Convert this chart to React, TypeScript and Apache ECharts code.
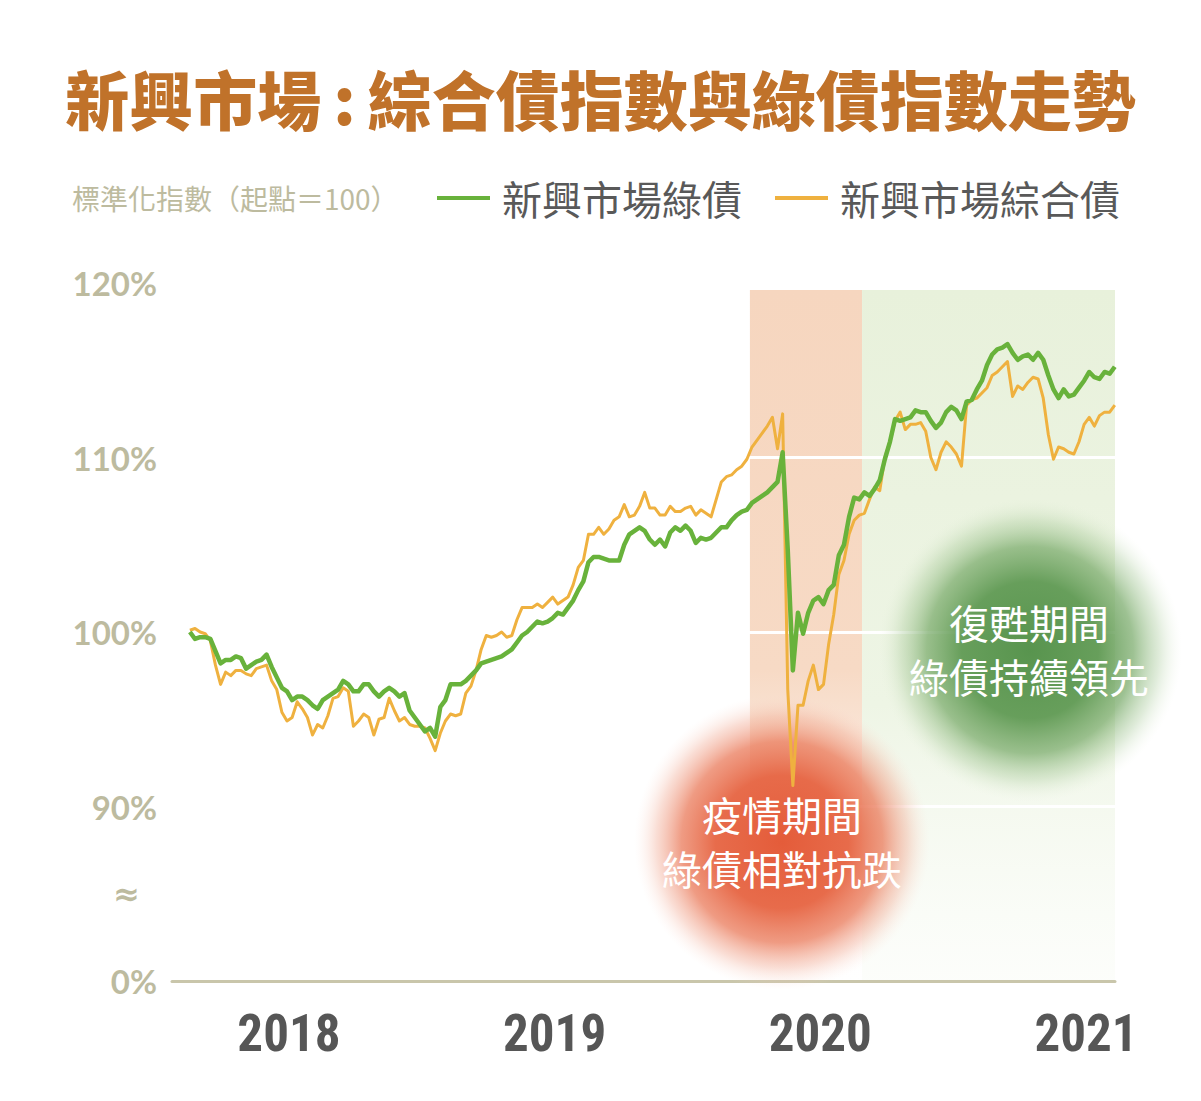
import React, { useEffect, useRef } from 'react';
import * as echarts from 'echarts';

// ---- data ----
const START_YEAR = 2017.6274; // first weekly observation
const WEEK = 1 / 52;
const yearTicks = [2018, 2019, 2020, 2021];
const yLabelValues = [80, 85, 90, 100, 110, 120];
const yLabelText: Record<number, string> = { 80: '0%', 85: '{ap|≈}', 90: '90%', 100: '100%', 110: '110%', 120: '120%' };
const gridLevels = [90, 100, 110];
const covidPeriod = [2019.735, 2020.157];
const recoveryPeriod = [2020.157, 2021.116];
const shadeTop = 119.6;

const seriesNames = ['新興市場綠債', '新興市場綜合債'];

const greenBond = [
  100.0, 99.6, 99.7, 99.7, 99.6, 98.9, 98.2, 98.4, 98.4, 98.6,
  98.5, 97.9, 98.1, 98.3, 98.4, 98.7, 98.0, 97.4, 96.8, 96.6,
  96.1, 96.3, 96.3, 96.1, 95.8, 95.6, 96.1, 96.3, 96.5, 96.7,
  97.2, 97.0, 96.6, 96.6, 97.0, 97.0, 96.6, 96.3, 96.6, 96.8,
  96.6, 96.3, 96.5, 95.5, 95.1, 94.7, 94.3, 94.5, 94.0, 95.7,
  96.1, 97.0, 97.0, 97.0, 97.2, 97.5, 97.8, 98.2, 98.3, 98.4,
  98.5, 98.6, 98.8, 99.0, 99.4, 99.8, 100.0, 100.3, 100.6, 100.5,
  100.6, 100.8, 101.1, 101.0, 101.4, 101.8, 102.4, 102.9, 104.0, 104.3,
  104.3, 104.2, 104.1, 104.1, 104.1, 105.0, 105.6, 105.8, 106.0, 105.8,
  105.3, 105.0, 105.3, 104.9, 105.7, 106.0, 105.8, 106.1, 105.8, 105.1,
  105.4, 105.3, 105.4, 105.7, 106.0, 106.0, 106.4, 106.7, 106.9, 107.0,
  107.4, 107.6, 107.8, 108.0, 108.3, 108.6, 110.3, 104.7, 97.8, 101.1,
  99.9, 101.1, 101.8, 102.0, 101.6, 102.4, 102.7, 104.4, 105.0, 106.6,
  107.7, 107.6, 108.0, 107.8, 108.2, 108.7, 109.9, 110.9, 112.2, 112.1,
  112.2, 112.3, 112.7, 112.6, 112.6, 112.1, 111.7, 112.0, 112.6, 112.9,
  112.7, 112.2, 113.2, 113.3, 113.9, 114.4, 115.3, 115.9, 116.2, 116.3,
  116.5, 116.0, 115.6, 115.8, 115.9, 115.6, 116.0, 115.6, 114.7, 113.9,
  113.4, 113.9, 113.5, 113.6, 114.0, 114.4, 114.9, 114.6, 114.5, 114.9,
  114.8, 115.2,
];

const compositeBond = [
  100.1, 100.2, 100.0, 99.9, 99.5, 98.1, 97.0, 97.7, 97.5, 97.8,
  97.8, 97.6, 97.5, 97.9, 98.0, 98.1, 97.2, 96.7, 95.4, 94.9,
  95.1, 96.0, 95.6, 95.1, 94.1, 94.7, 94.5, 95.2, 96.2, 96.3,
  96.8, 96.6, 94.6, 94.9, 95.3, 95.1, 94.1, 95.0, 95.1, 96.2,
  95.5, 94.9, 95.1, 94.7, 94.6, 94.6, 94.5, 93.9, 93.2, 94.2,
  94.9, 95.3, 95.2, 95.3, 96.5, 96.9, 97.8, 99.0, 99.8, 99.7,
  99.8, 100.0, 99.7, 99.8, 100.7, 101.4, 101.4, 101.4, 101.6, 101.4,
  101.7, 102.0, 101.6, 101.8, 102.0, 102.7, 103.7, 104.1, 105.6, 105.6,
  106.0, 105.6, 105.9, 106.4, 106.6, 107.3, 106.6, 106.7, 107.2, 108.0,
  107.1, 107.1, 106.7, 106.7, 107.2, 106.9, 106.9, 107.1, 107.2, 106.7,
  107.0, 106.8, 106.6, 107.6, 108.6, 108.9, 109.0, 109.3, 109.5, 109.9,
  110.6, 111.0, 111.4, 111.8, 112.3, 110.5, 112.5, 96.7, 91.2, 95.8,
  95.8, 97.2, 98.1, 96.7, 97.0, 99.3, 101.0, 103.3, 104.1, 105.6,
  106.4, 106.7, 106.8, 107.6, 108.3, 108.1, 110.0, 110.9, 112.1, 112.6,
  111.6, 111.9, 111.9, 112.0, 111.5, 110.0, 109.3, 110.3, 110.9, 110.6,
  110.2, 109.5, 113.0, 113.3, 113.4, 113.7, 114.0, 114.7, 114.9, 115.2,
  115.5, 113.5, 114.1, 113.9, 114.3, 114.6, 114.5, 113.4, 111.3, 109.9,
  110.6, 110.5, 110.3, 110.2, 110.9, 111.9, 112.3, 111.8, 112.4, 112.6,
  112.6, 113.0,
];

const GREEN = '#68b23b';
const ORANGE = '#efb13f';
const AXIS_TEXT = '#bdbb9f';
const CJK = '"Noto Sans CJK TC", "Noto Sans CJK SC", sans-serif';

function toPairs(values: number[]) {
  return values.map((v, i) => [START_YEAR + i * WEEK, v]);
}

function radial(stops: [number, string][]) {
  return new echarts.graphic.RadialGradient(0.5, 0.5, 0.5, stops.map(([offset, color]) => ({ offset, color })));
}

export default function App() {
  const ref = useRef<HTMLDivElement>(null);

  useEffect(() => {
    if (!ref.current) return;
    const chart = echarts.init(ref.current, undefined, { renderer: 'svg' });

    const titleStyle = { fontSize: 64, fontWeight: 900, color: '#c0722a', fontFamily: CJK };

    const option: any = {
      animation: false,
      backgroundColor: '#ffffff',
      title: {
        text: '{t|新興市場}{c|:}{t|綜合債指數與綠債指數走勢}',
        left: 'center',
        top: 60,
        textStyle: {
          ...titleStyle,
          rich: {
            t: { ...titleStyle },
            c: { ...titleStyle, padding: [0, 12, 0, 12] },
          },
        },
      },
      legend: {
        left: 432,
        top: 173,
        icon: 'rect',
        itemWidth: 53,
        itemHeight: 4,
        itemGap: 33,
        data: seriesNames,
        textStyle: { fontSize: 40, color: '#595959', fontFamily: CJK, padding: [0, 0, 0, 7] },
      },
      grid: { left: 172, right: 86, top: 283, bottom: 120 },
      xAxis: {
        type: 'value',
        min: 2017.56,
        max: 2021.109,
        axisLine: { show: true, lineStyle: { color: '#c9c6ab', width: 3 } },
        axisTick: { show: false },
        splitLine: { show: false },
        axisLabel: {
          customValues: yearTicks,
          formatter: (v: number) => String(Math.round(v)),
          fontSize: 51,
          fontWeight: 'bold',
          color: '#565656',
          fontFamily: '"Liberation Sans Narrow", "Roboto Condensed", Roboto, sans-serif',
          margin: 27,
        },
      },
      yAxis: {
        type: 'value',
        min: 80,
        max: 120,
        interval: 10,
        axisLine: { show: false },
        axisTick: { show: false },
        splitLine: { show: false },
        axisLabel: {
          customValues: yLabelValues,
          formatter: (v: number) => yLabelText[Math.round(v)] ?? '',
          fontSize: 33,
          fontWeight: 'bold',
          color: AXIS_TEXT,
          fontFamily: 'Lato, "Noto Sans", sans-serif',
          margin: 15,
          rich: {
            ap: {
              fontSize: 32,
              fontWeight: 'bold',
              color: AXIS_TEXT,
              fontFamily: '"DejaVu Sans", sans-serif',
              padding: [0, 17, 0, 0],
            },
          },
        },
      },
      series: [
        {
          name: seriesNames[1],
          type: 'line',
          data: toPairs(compositeBond),
          showSymbol: false,
          symbol: 'none',
          lineStyle: { color: ORANGE, width: 3, join: 'round' },
          itemStyle: { color: ORANGE },
          z: 2,
          markArea: {
            silent: true,
            z: 0,
            data: [
              [
                {
                  xAxis: covidPeriod[0],
                  yAxis: shadeTop,
                  itemStyle: {
                    color: new echarts.graphic.LinearGradient(0, 0, 0, 1, [
                      { offset: 0, color: '#f6d6bf' },
                      { offset: 0.55, color: '#f7dac5' },
                      { offset: 0.8, color: 'rgba(249,228,214,0.5)' },
                      { offset: 1, color: 'rgba(255,255,255,0.1)' },
                    ]),
                  },
                },
                { xAxis: covidPeriod[1], yAxis: 80 },
              ],
              [
                {
                  xAxis: recoveryPeriod[0],
                  yAxis: shadeTop,
                  itemStyle: {
                    color: new echarts.graphic.LinearGradient(0, 0, 0, 1, [
                      { offset: 0, color: '#e8f1db' },
                      { offset: 0.6, color: '#eef5e5' },
                      { offset: 1, color: 'rgba(248,251,244,0.4)' },
                    ]),
                  },
                },
                { xAxis: recoveryPeriod[1], yAxis: 80 },
              ],
            ],
          },
        },
        {
          name: seriesNames[0],
          type: 'line',
          data: toPairs(greenBond),
          showSymbol: false,
          symbol: 'none',
          lineStyle: { color: GREEN, width: 4.5, join: 'round' },
          itemStyle: { color: GREEN },
          z: 3,
          markLine: {
            silent: true,
            z: 0.5,
            symbol: ['none', 'none'],
            label: { show: false },
            lineStyle: { color: '#ffffff', width: 3, type: 'solid' },
            emphasis: { disabled: true },
            data: gridLevels.map((v) => ({ yAxis: v })),
          },
        },
      ],
      graphic: {
        elements: [
          {
            type: 'text',
            left: 72,
            top: 184,
            style: { text: '標準化指數（起點＝100）', fill: AXIS_TEXT, fontSize: 28, fontFamily: CJK },
          },
          {
            type: 'circle',
            shape: { cx: 782, cy: 842, r: 148 },
            silent: true,
            z: 1,
            style: {
              fill: radial([
                [0, 'rgba(228,92,58,1)'],
                [0.45, 'rgba(230,100,66,0.95)'],
                [0.68, 'rgba(234,122,90,0.75)'],
                [0.85, 'rgba(240,160,135,0.35)'],
                [1, 'rgba(252,225,215,0)'],
              ]),
            },
          },
          {
            type: 'circle',
            shape: { cx: 1030, cy: 650, r: 152 },
            silent: true,
            z: 1,
            style: {
              fill: radial([
                [0, 'rgba(88,148,78,1)'],
                [0.45, 'rgba(96,154,84,0.95)'],
                [0.68, 'rgba(120,170,105,0.72)'],
                [0.85, 'rgba(165,200,150,0.35)'],
                [1, 'rgba(230,240,220,0)'],
              ]),
            },
          },
          {
            type: 'text', x: 782, y: 841, z: 10,
            style: {
              text: '疫情期間\n綠債相對抗跌', fill: '#ffffff', fontSize: 40, lineHeight: 54,
              fontFamily: CJK, align: 'center', verticalAlign: 'middle',
            },
          },
          {
            type: 'text', x: 1029, y: 649, z: 10,
            style: {
              text: '復甦期間\n綠債持續領先', fill: '#ffffff', fontSize: 40, lineHeight: 54,
              fontFamily: CJK, align: 'center', verticalAlign: 'middle',
            },
          },
        ],
      },
    };

    chart.setOption(option);
    return () => chart.dispose();
  }, []);

  return (
    <div
      ref={ref}
      style={{ position: 'absolute', left: 0, top: 0, width: 1201, height: 1101, background: '#fff' }}
    />
  );
}
